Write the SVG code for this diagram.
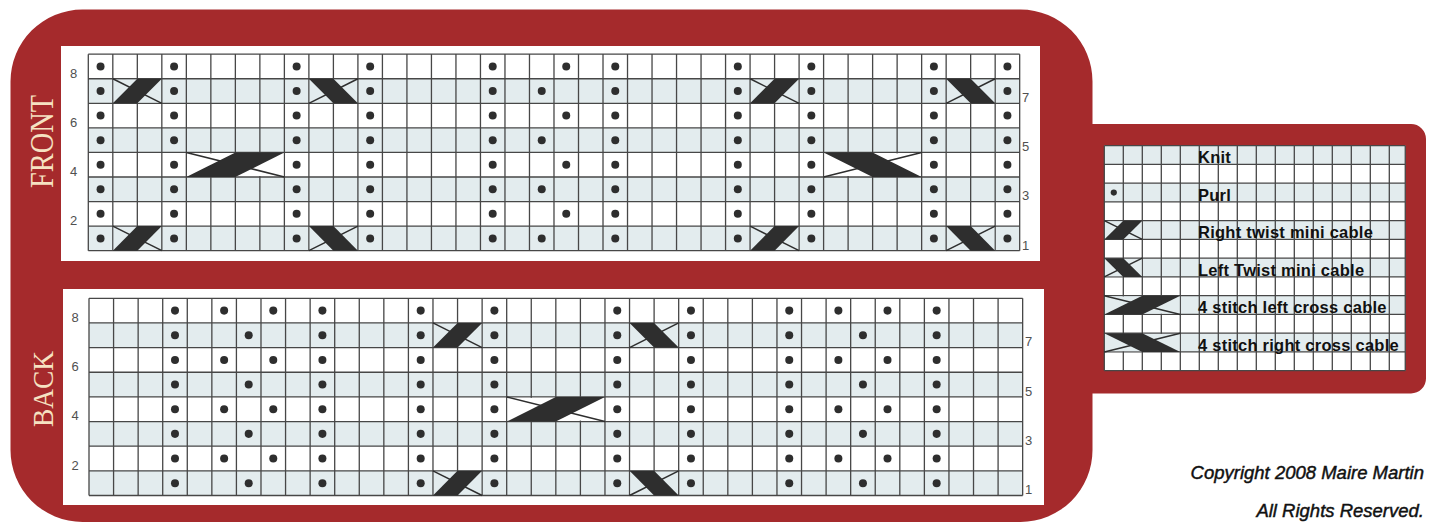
<svg xmlns="http://www.w3.org/2000/svg" xmlns:xlink="http://www.w3.org/1999/xlink" width="1433" height="523" viewBox="0 0 1433 523">
<style>
.grid{fill:none;stroke:#474747;stroke-width:1.3;vector-effect:non-scaling-stroke}
.sh{fill:#e3ecee}
.panel{fill:#ffffff}
.dot{fill:#2e2e2e}
.band{fill:#2e2e2e}
.thin{fill:none;stroke:#2e2e2e;stroke-width:1.5;vector-effect:non-scaling-stroke}
.num{font-family:"Liberation Sans",Arial,sans-serif;font-size:13px;fill:#505050}
.leg{font-family:"Liberation Sans",Arial,sans-serif;font-size:16.5px;font-weight:bold;letter-spacing:0.25px;fill:#111111}
.title{font-family:"Liberation Serif","DejaVu Serif",serif;fill:#f6e2c2;text-anchor:middle}
.copy{font-family:"Liberation Sans",Arial,sans-serif;font-size:18.5px;font-style:italic;fill:#111111;stroke:#111111;stroke-width:0.45;text-anchor:end}
</style>
<defs>
<circle id="d" cx="0.5" cy="0.5" r="0.163" class="dot"/>
<g id="c8"><use xlink:href="#d" y="0"/><use xlink:href="#d" y="1"/><use xlink:href="#d" y="2"/><use xlink:href="#d" y="3"/><use xlink:href="#d" y="4"/><use xlink:href="#d" y="5"/><use xlink:href="#d" y="6"/><use xlink:href="#d" y="7"/></g>
<g id="ce"><use xlink:href="#d" y="0"/><use xlink:href="#d" y="2"/><use xlink:href="#d" y="4"/><use xlink:href="#d" y="6"/></g>
<g id="co"><use xlink:href="#d" y="1"/><use xlink:href="#d" y="3"/><use xlink:href="#d" y="5"/><use xlink:href="#d" y="7"/></g>
<g id="rt"><rect x="0.04" y="0.04" width="1.92" height="0.92"/><path class="thin" d="M0,0L2,1"/><path class="band" d="M0,1H1L2,0H1Z"/></g>
<g id="lt"><rect x="0.04" y="0.04" width="1.92" height="0.92"/><path class="thin" d="M0,1L2,0"/><path class="band" d="M0,0H1L2,1H1Z"/></g>
<g id="l4"><rect x="0.04" y="0.04" width="3.92" height="0.92"/><path class="thin" d="M0,0L4,1"/><path class="band" d="M0,1H2L4,0H2Z"/></g>
<g id="r4"><rect x="0.04" y="0.04" width="3.92" height="0.92"/><path class="thin" d="M0,1L4,0"/><path class="band" d="M0,0H2L4,1H2Z"/></g>
<path id="g38v" class="grid" d="M0,0V8M1,0V8M2,0V8M3,0V8M4,0V8M5,0V8M6,0V8M7,0V8M8,0V8M9,0V8M10,0V8M11,0V8M12,0V8M13,0V8M14,0V8M15,0V8M16,0V8M17,0V8M18,0V8M19,0V8M20,0V8M21,0V8M22,0V8M23,0V8M24,0V8M25,0V8M26,0V8M27,0V8M28,0V8M29,0V8M30,0V8M31,0V8M32,0V8M33,0V8M34,0V8M35,0V8M36,0V8M37,0V8M38,0V8M0,0H38M0,1H38M0,2H38M0,3H38M0,4H38M0,5H38M0,6H38M0,7H38M0,8H38"/>
<g id="rows38"><rect x="0" y="1" width="38" height="1"/><rect x="0" y="3" width="38" height="1"/><rect x="0" y="5" width="38" height="1"/><rect x="0" y="7" width="38" height="1"/></g>
</defs>

<g id="frame">
<path fill="#a52a2c" d="M10.5,81.5 A72,72 0 0 1 82.5,9.5 H1020.5 A72,72 0 0 1 1092.5,81.5 V124 H1411 A15,15 0 0 1 1426,139 V378.5 A15,15 0 0 1 1411,393.5 H1092.5 V450 A72,72 0 0 1 1020.5,522 H82.5 A72,72 0 0 1 10.5,450 Z"/>
<text class="title" font-size="34" textLength="93" lengthAdjust="spacingAndGlyphs" transform="translate(53.3,141.5) rotate(-90)">FRONT</text>
<text class="title" font-size="30" textLength="76" lengthAdjust="spacingAndGlyphs" transform="translate(53.3,389) rotate(-90)">BACK</text>
</g>

<g id="front-chart">
<rect class="panel" x="61" y="46" width="979" height="215"/>
<g transform="translate(88.3,54.2) scale(24.51,24.56)">
<rect x="0" y="0" width="38" height="8" fill="#ffffff"/>
<use xlink:href="#rows38" class="sh"/>
<use xlink:href="#g38v"/>
<use xlink:href="#c8" x="0"/><use xlink:href="#c8" x="3"/><use xlink:href="#c8" x="8"/><use xlink:href="#c8" x="11"/><use xlink:href="#c8" x="16"/><use xlink:href="#c8" x="21"/><use xlink:href="#c8" x="26"/><use xlink:href="#c8" x="29"/><use xlink:href="#c8" x="34"/><use xlink:href="#c8" x="37"/>
<use xlink:href="#co" x="18"/><use xlink:href="#ce" x="19"/>
<use xlink:href="#rt" x="1" y="1" fill="#e3ecee"/><use xlink:href="#rt" x="1" y="7" fill="#e3ecee"/><use xlink:href="#rt" x="27" y="1" fill="#e3ecee"/><use xlink:href="#rt" x="27" y="7" fill="#e3ecee"/>
<use xlink:href="#lt" x="9" y="1" fill="#e3ecee"/><use xlink:href="#lt" x="9" y="7" fill="#e3ecee"/><use xlink:href="#lt" x="35" y="1" fill="#e3ecee"/><use xlink:href="#lt" x="35" y="7" fill="#e3ecee"/>
<use xlink:href="#l4" x="4" y="4" fill="#ffffff"/><use xlink:href="#r4" x="30" y="4" fill="#ffffff"/>
</g>
<text class="num" x="70" y="77.6">8</text><text class="num" x="70" y="126.7">6</text><text class="num" x="70" y="175.8">4</text><text class="num" x="70" y="224.9">2</text>
<text class="num" x="1022" y="102.2">7</text><text class="num" x="1022" y="151.3">5</text><text class="num" x="1022" y="200.4">3</text><text class="num" x="1022" y="249.5">1</text>
</g>

<g id="back-chart">
<rect class="panel" x="63" y="289" width="981" height="216"/>
<g transform="translate(89,298.3) scale(24.57,24.65)">
<rect x="0" y="0" width="38" height="8" fill="#ffffff"/>
<use xlink:href="#rows38" class="sh"/>
<use xlink:href="#g38v"/>
<use xlink:href="#c8" x="3"/><use xlink:href="#c8" x="9"/><use xlink:href="#c8" x="13"/><use xlink:href="#c8" x="16"/><use xlink:href="#c8" x="21"/><use xlink:href="#c8" x="24"/><use xlink:href="#c8" x="28"/><use xlink:href="#c8" x="34"/>
<use xlink:href="#ce" x="5"/><use xlink:href="#co" x="6"/><use xlink:href="#ce" x="7"/>
<use xlink:href="#ce" x="30"/><use xlink:href="#co" x="31"/><use xlink:href="#ce" x="32"/>
<use xlink:href="#rt" x="14" y="1" fill="#e3ecee"/><use xlink:href="#rt" x="14" y="7" fill="#e3ecee"/>
<use xlink:href="#lt" x="22" y="1" fill="#e3ecee"/><use xlink:href="#lt" x="22" y="7" fill="#e3ecee"/>
<use xlink:href="#l4" x="17" y="4" fill="#ffffff"/>
</g>
<text class="num" x="71.5" y="321.8">8</text><text class="num" x="71.5" y="371">6</text><text class="num" x="71.5" y="420.3">4</text><text class="num" x="71.5" y="469.6">2</text>
<text class="num" x="1025" y="346.4">7</text><text class="num" x="1025" y="395.7">5</text><text class="num" x="1025" y="445">3</text><text class="num" x="1025" y="494.3">1</text>
</g>

<g id="legend">
<g transform="translate(1104.3,145.7) scale(19,18.75)">
<rect x="0" y="0" width="15.84" height="12" fill="#ffffff"/>
<g class="sh"><rect x="0" y="0" width="15.84" height="1"/><rect x="0" y="2" width="15.84" height="1"/><rect x="0" y="4" width="15.84" height="1"/><rect x="0" y="6" width="15.84" height="1"/><rect x="0" y="8" width="15.84" height="1"/><rect x="0" y="10" width="15.84" height="1"/></g>
<path class="grid" d="M0,0V12M1,0V12M2,0V12M3,0V12M4,0V12M5,0V12M6,0V12M7,0V12M8,0V12M9,0V12M10,0V12M11,0V12M12,0V12M13,0V12M14,0V12M15,0V12M15.84,0V12M0,0H15.84M0,1H15.84M0,2H15.84M0,3H15.84M0,4H15.84M0,5H15.84M0,6H15.84M0,7H15.84M0,8H15.84M0,9H15.84M0,10H15.84M0,11H15.84M0,12H15.84"/>
<use xlink:href="#d" x="0" y="2"/>
<use xlink:href="#rt" x="0" y="4" fill="#e3ecee"/>
<use xlink:href="#lt" x="0" y="6" fill="#e3ecee"/>
<use xlink:href="#l4" x="0" y="8" fill="#e3ecee"/>
<use xlink:href="#r4" x="0" y="10" fill="#e3ecee"/>
</g>
<text class="leg" x="1198" y="163.3">Knit</text>
<text class="leg" x="1198" y="200.8">Purl</text>
<text class="leg" x="1198" y="238.3">Right twist mini cable</text>
<text class="leg" x="1198" y="275.8">Left Twist mini cable</text>
<text class="leg" x="1198" y="313.3">4 stitch left cross cable</text>
<text class="leg" x="1198" y="350.8">4 stitch right cross cable</text>
</g>

<g id="copyright">
<text class="copy" x="1424" y="479.3">Copyright 2008 Maire Martin</text>
<text class="copy" x="1424" y="516.7">All Rights Reserved.</text>
</g>
</svg>
